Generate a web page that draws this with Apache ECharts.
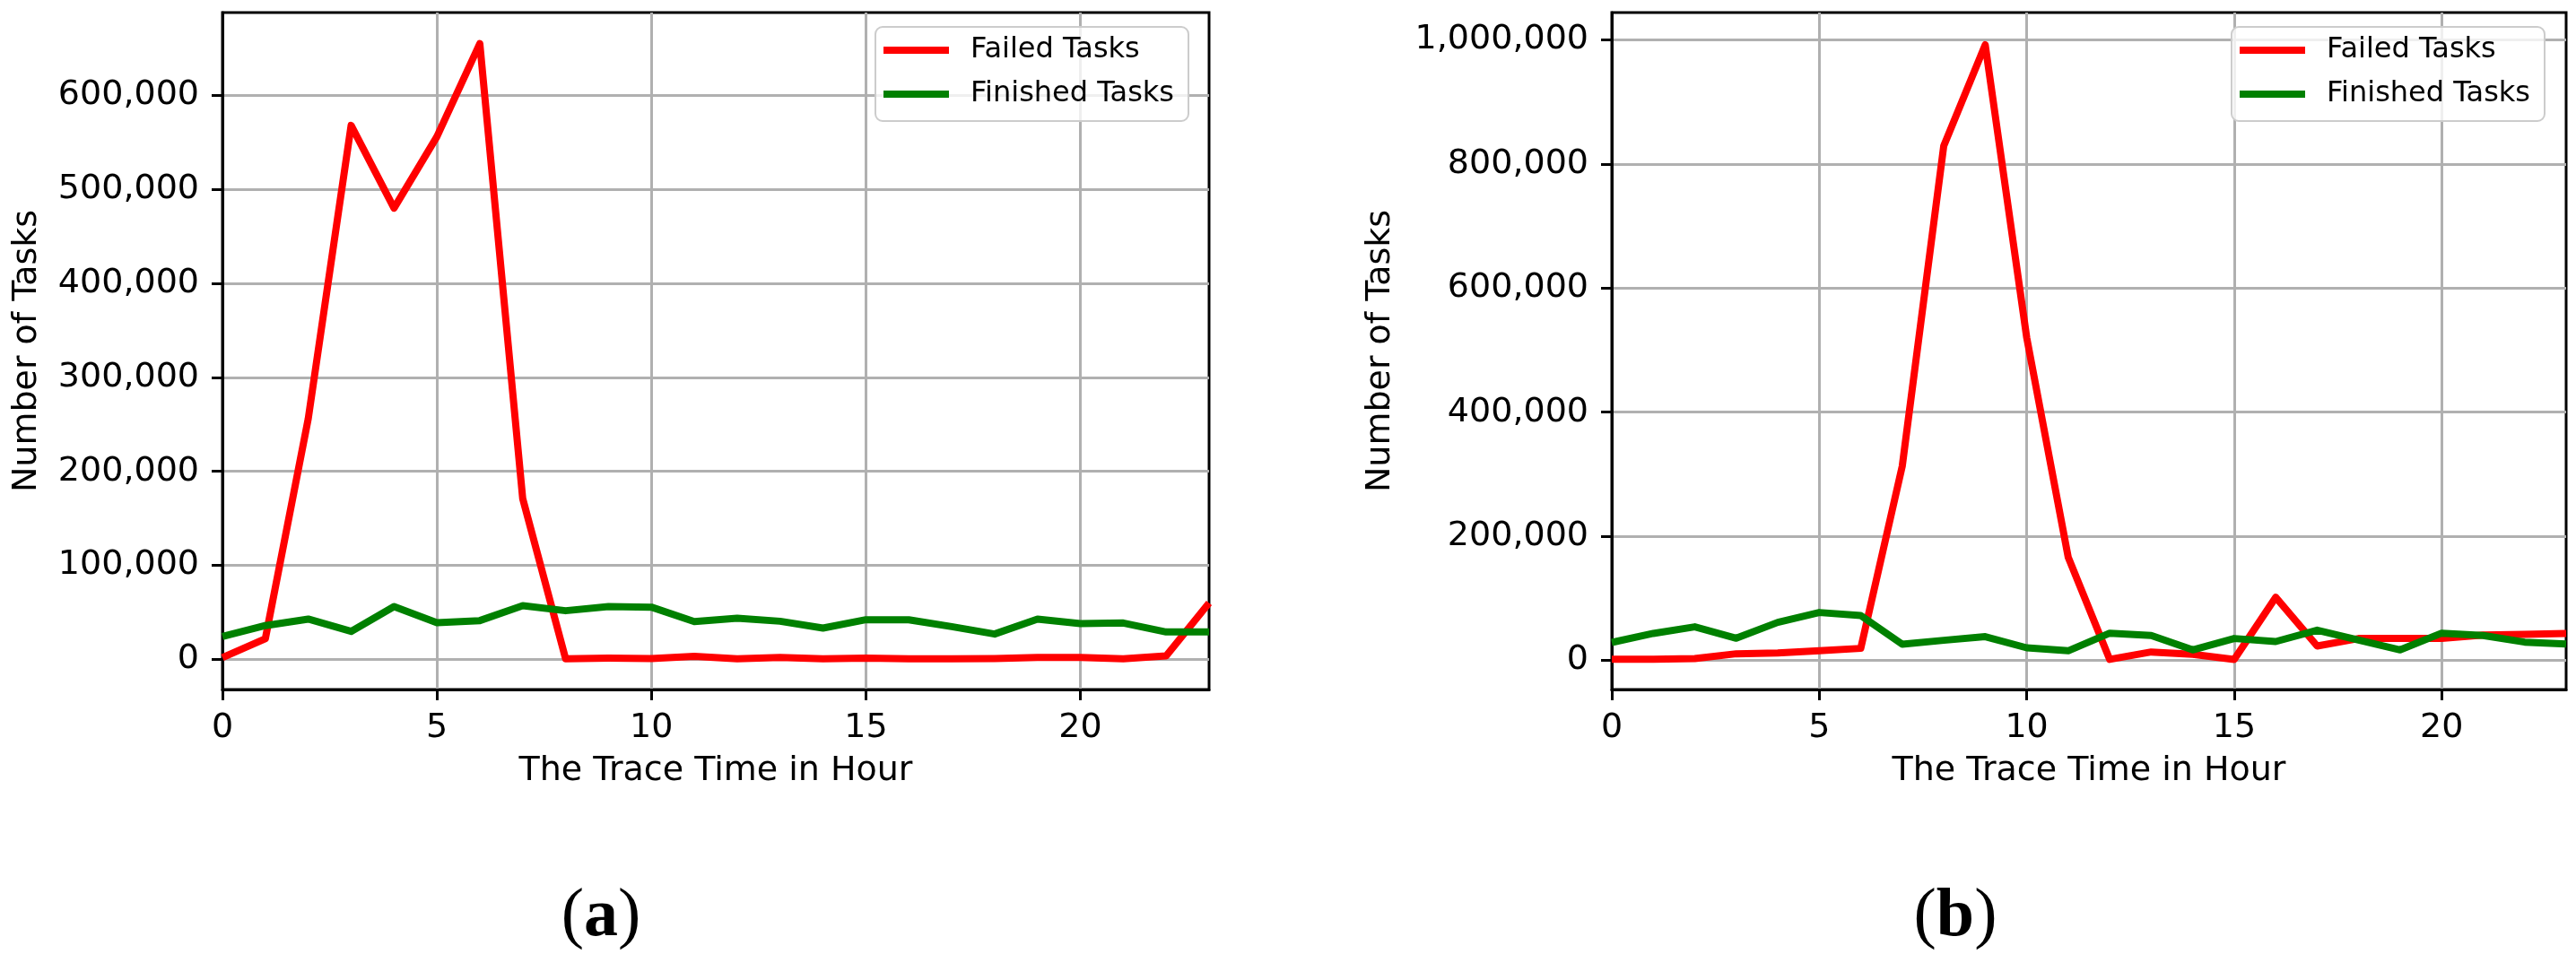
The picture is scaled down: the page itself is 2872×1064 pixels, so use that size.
<!DOCTYPE html>
<html>
<head>
<meta charset="utf-8">
<title>Failed and Finished Tasks per Hour</title>
<script src="https://cdn.jsdelivr.net/npm/echarts@6/dist/echarts.min.js"></script>
<style>
html, body { margin: 0; padding: 0; background: #fff; }
#chart { width: 2872px; height: 1064px; }
</style>
</head>
<body>
<div id="chart"></div>
<script>
// hours of the trace, same for both panels
const hours = [0, 1, 2, 3, 4, 5, 6, 7, 8, 9, 10, 11, 12, 13, 14, 15, 16, 17, 18, 19, 20, 21, 22, 23]

// panel (a)
const failedA = [2000, 22000, 256000, 568000, 480000, 556000, 655000, 171000, 600, 1300, 1000, 3200,
  600, 2200, 600, 1300, 600, 600, 900, 2200, 2200, 600, 3800, 60000]
const finishedA = [24400, 36000, 42900, 29800, 56200, 39000, 41300, 57200, 51800, 56200, 55600, 40300,
  43800, 40600, 33300, 42200, 42200, 34900, 27000, 42900, 38100, 38700, 29200, 29200]

// panel (b)
const failedB = [1900, 1900, 2900, 10600, 12000, 15400, 19300, 313000, 829000, 992000, 520000, 166000,
  1500, 13500, 9600, 1400, 101600, 23100, 35200, 35200, 35200, 40900, 41900, 43400]
const finishedB = [28900, 43400, 54000, 35600, 61200, 77100, 72300, 26000, 32300, 38100, 20200, 15400,
  43800, 40000, 16900, 35200, 30300, 48700, 32800, 16900, 43800, 40000, 29400, 26500]

// tick labels
const xTicks = [0, 5, 10, 15, 20]
const yTicksA = [0, 100000, 200000, 300000, 400000, 500000, 600000]
const yTicksB = [0, 200000, 400000, 600000, 800000, 1000000]

const FONT = 'DejaVu Sans'
const RED = '#ff0000'
const GREEN = '#008000'

function pairs(ys) {
  return hours.map((h, i) => [h, ys[i]])
}

function xAxisFor(idx) {
  return {
    gridIndex: idx,
    type: 'value',
    min: 0,
    max: 23,
    name: 'The Trace Time in Hour',
    nameLocation: 'middle',
    nameGap: 72,
    nameTextStyle: { fontSize: 38, color: '#000', fontFamily: FONT },
    axisLine: { show: true, onZero: false, lineStyle: { color: '#000', width: 3 } },
    axisTick: { show: true, length: 12, lineStyle: { color: '#000', width: 3 }, customValues: xTicks },
    axisLabel: { fontSize: 38, color: '#000', fontFamily: FONT, margin: 24, customValues: xTicks },
    splitLine: { show: true, lineStyle: { color: '#b0b0b0', width: 3 } }
  }
}

function yAxisFor(idx, min, max, ticks, gap) {
  return {
    gridIndex: idx,
    type: 'value',
    min: min,
    max: max,
    name: 'Number of Tasks',
    nameLocation: 'middle',
    nameRotate: 90,
    nameGap: gap,
    nameTextStyle: { fontSize: 38, color: '#000', fontFamily: FONT },
    axisLine: { show: true, onZero: false, lineStyle: { color: '#000', width: 3 } },
    axisTick: { show: true, length: 12, lineStyle: { color: '#000', width: 3 }, customValues: ticks },
    axisLabel: {
      fontSize: 38, color: '#000', fontFamily: FONT, margin: 26, customValues: ticks,
      formatter: v => Number(v).toLocaleString('en-US')
    },
    splitLine: { show: true, lineStyle: { color: '#b0b0b0', width: 3 } }
  }
}

function lineSeries(name, idx, ys, color) {
  return {
    name: name,
    type: 'line',
    xAxisIndex: idx,
    yAxisIndex: idx,
    data: pairs(ys),
    symbol: 'none',
    silent: true,
    itemStyle: { color: color },
    lineStyle: { color: color, width: 8, join: 'round' },
    z: name === 'Failed Tasks' ? 3 : 4
  }
}

function legendFor(left) {
  return {
    left: left,
    top: 30,
    orient: 'vertical',
    icon: 'rect',
    itemWidth: 73,
    itemHeight: 8,
    itemGap: 17,
    padding: [10, 16, 14, 9],
    borderColor: '#cccccc',
    borderWidth: 2,
    borderRadius: 8,
    backgroundColor: 'rgba(255,255,255,0.8)',
    textStyle: { fontSize: 32, color: '#000', fontFamily: FONT, padding: [0, 0, 0, 19] },
    data: ['Failed Tasks', 'Finished Tasks']
  }
}

function subLabel(x, letter) {
  return {
    type: 'text',
    x: x,
    y: 1023,
    silent: true,
    style: {
      text: '{p|(}{b|' + letter + '}{p|)}',
      align: 'center',
      verticalAlign: 'middle',
      rich: {
        p: { fontSize: 76, fontFamily: 'Liberation Serif', color: '#000' },
        b: { fontSize: 76, fontFamily: 'Liberation Serif', fontWeight: 'bold', color: '#000' }
      }
    }
  }
}

const chart = echarts.init(document.getElementById('chart'))
const option = {
  animation: false,
  backgroundColor: '#fff',
  grid: [
    { left: 248, top: 14, width: 1100, height: 755, show: true, borderColor: '#000', borderWidth: 3, outerBoundsMode: 'none' },
    { left: 1797, top: 14, width: 1064, height: 755, show: true, borderColor: '#000', borderWidth: 3, outerBoundsMode: 'none' }
  ],
  xAxis: [xAxisFor(0), xAxisFor(1)],
  yAxis: [
    yAxisFor(0, -32000, 688000, yTicksA, 199),
    yAxisFor(1, -47000, 1044000, yTicksB, 239)
  ],
  legend: [legendFor(976), legendFor(2488)],
  series: [
    lineSeries('Failed Tasks', 0, failedA, RED),
    lineSeries('Finished Tasks', 0, finishedA, GREEN),
    lineSeries('Failed Tasks', 1, failedB, RED),
    lineSeries('Finished Tasks', 1, finishedB, GREEN)
  ],
  graphic: [subLabel(670, 'a'), subLabel(2180, 'b')]
}
chart.setOption(option)
</script>
</body>
</html>
